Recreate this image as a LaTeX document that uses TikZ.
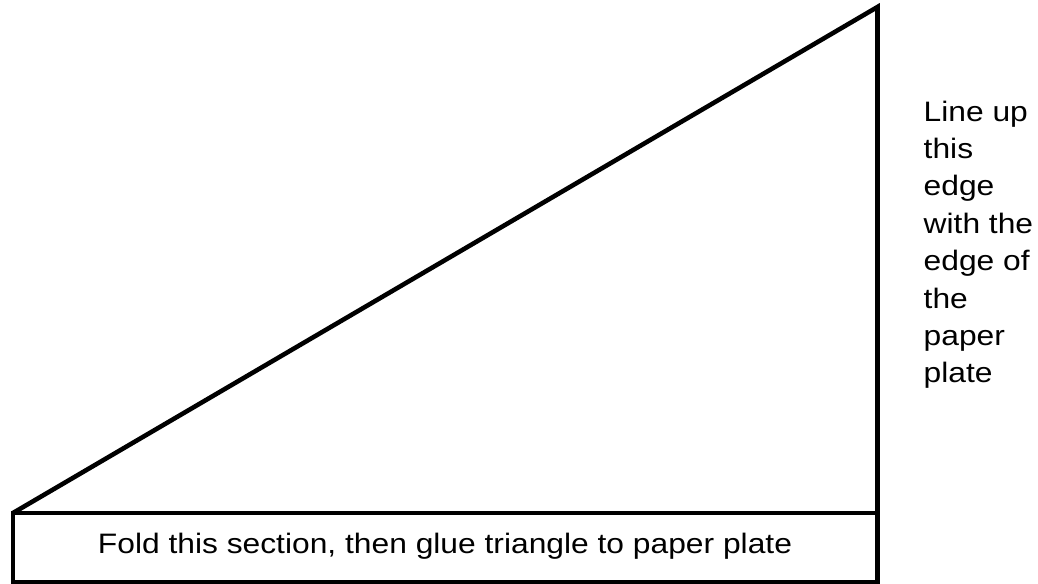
\documentclass[tikz,border=0pt]{standalone}
\usepackage{fontspec}
\setmainfont{Liberation Sans}
\newfontfamily\notefont[FakeStretch=1.13]{Liberation Sans}

\begin{document}
\begin{tikzpicture}[
    outline/.style={draw, line width=1.3pt},
    flapbox/.style={rectangle, outline, minimum width=8.645cm, minimum height=0.69cm, inner sep=0pt, outer sep=0pt},
    note/.style={font=\notefont\fontsize{8}{10.64}\selectfont, inner sep=0pt, align=left}
]
\useasboundingbox (0,0) rectangle (10.38,5.84);
\node[flapbox, anchor=south west] (flap) at (0.13,0.02) {};
\coordinate (apex) at (8.775,5.77);
\draw[outline] (flap.north west) -- (apex) -- (flap.north east);
\node[note, anchor=base] (foldtext) at (4.45,0.30) {Fold this section, then glue triangle to paper plate};
\node[note, anchor=north west] (sidenote) at (9.23,4.84) {Line up\\this\\edge\\with the\\edge of\\the\\paper\\plate};
\end{tikzpicture}
\end{document}
